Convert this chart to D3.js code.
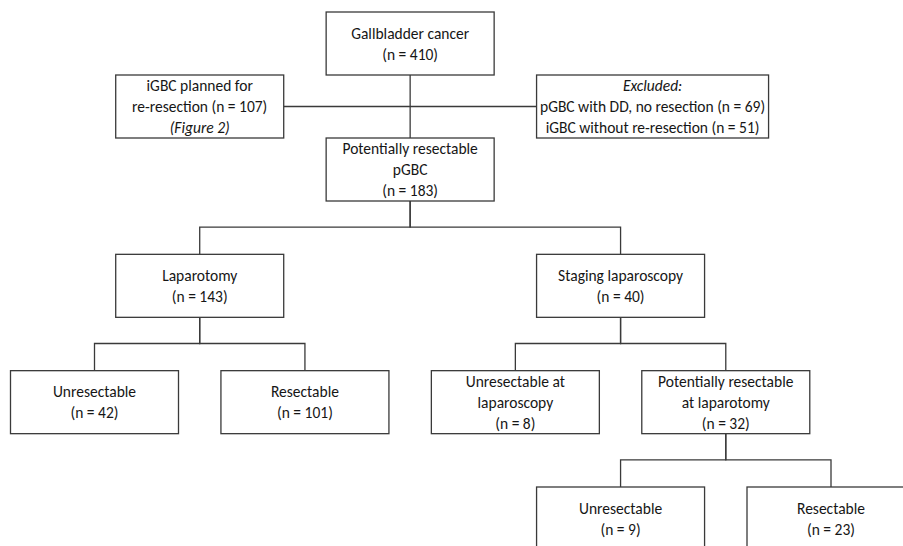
<!DOCTYPE html>
<html>
<head>
<meta charset="utf-8">
<script src="https://cdn.jsdelivr.net/npm/d3@7"></script>
<style>
  body { margin: 0; background: #fff; }
  svg text { font-family: Carlito, Calibri, Lato, sans-serif; fill: #161616; }
</style>
</head>
<body>
<div id="container1"></div>
<script>
// main tree: label lines (count goes on its own line underneath)
const labels = [
    ['Gallbladder cancer'],
    ['Potentially resectable', 'pGBC'],
    ['Laparotomy'],
    ['Staging laparoscopy'],
    ['Unresectable'],
    ['Resectable'],
    ['Unresectable at', 'laparoscopy'],
    ['Potentially resectable', 'at laparotomy'],
    ['Unresectable'],
    ['Resectable']
];
const counts = [410, 183, 143, 40, 42, 101, 8, 32, 9, 23];
const parents = [null, 0, 1, 1, 2, 2, 3, 3, 7, 7];

// side boxes hanging off the first link
const plannedLabel = ['iGBC planned for', 're-resection'];
const plannedCount = 107;
const plannedNote = '(Figure 2)';
const excludedTitle = 'Excluded:';
const excludedLabels = ['pGBC with DD, no resection', 'iGBC without re-resection'];
const excludedCounts = [69, 51];

const maxWidth = 903;
const maxHeight = 546;
const boxW = 168;
const boxH = 63;
const lineH = 21;
const fontSize = 15.5;
const stroke = '#3a3a3a';

let svg = d3.select('div#container1')
            .append('svg')
            .attr('width', maxWidth)
            .attr('height', maxHeight)
            .style('background-color', 'white');

let table = labels.map((l, i) => ({id: i, parent: parents[i], lines: l.map(t => ({t: t})).concat([{t: `(n = ${counts[i]})`}])}));
let root = d3.stratify().id(d => d.id).parentId(d => d.parent)(table);
d3.tree().nodeSize([1, 1]).separation(() => 1)(root);

const nodes = root.descendants();
const xScale = d3.scaleLinear()
                .domain([d3.min(nodes, d => d.x), d3.max(nodes, d => d.x)])
                .range([94.5, 831]);
const yScale = d3.scaleLinear()
                .domain([0, 1, 4])
                .range([12, 138, 487]);

const cx = d => xScale(d.x);
const boxTop = d => yScale(d.depth);

// links (elbows)
let links = svg.append('g')
    .attr('fill', 'none')
    .attr('stroke', stroke)
    .attr('stroke-width', 1.3);

links.selectAll('path')
    .data(root.links())
    .enter()
    .append('path')
    .attr('d', l => {
        let y1 = boxTop(l.source) + boxH;
        let y2 = boxTop(l.target);
        let ym = l.source.depth == 0 ? y2 : (y1 + y2) / 2 - 0.5;
        return `M${cx(l.source)},${y1}V${ym}H${cx(l.target)}V${y2}`;
    });

// side boxes
const lapNode = nodes.find(d => d.data.id == 2);
const stageNode = nodes.find(d => d.data.id == 3);
const sideTop = (yScale(0) + yScale(1)) / 2;
const side = [
    {x: cx(lapNode) - boxW / 2, w: boxW,
     lines: [{t: plannedLabel[0]}, {t: `${plannedLabel[1]} (n = ${plannedCount})`}, {t: plannedNote, it: true}]},
    {x: cx(stageNode) - boxW / 2, w: 232,
     lines: [{t: excludedTitle, it: true}].concat(excludedLabels.map((t, i) => ({t: `${t} (n = ${excludedCounts[i]})`})))}
];

links.append('line')
    .attr('x1', side[0].x + side[0].w)
    .attr('x2', side[1].x)
    .attr('y1', sideTop + boxH / 2)
    .attr('y2', sideTop + boxH / 2);

// all boxes
const boxes = nodes.map(d => ({x: cx(d) - boxW / 2, y: boxTop(d), w: boxW, lines: d.data.lines}))
    .concat(side.map(s => ({x: s.x, y: sideTop, w: s.w, lines: s.lines})));

let g = svg.selectAll('g.box')
    .data(boxes)
    .enter()
    .append('g')
    .classed('box', true);

g.append('rect')
    .attr('x', d => d.x)
    .attr('y', d => d.y)
    .attr('width', d => d.w)
    .attr('height', boxH)
    .attr('fill', 'white')
    .attr('stroke', stroke)
    .attr('stroke-width', 1.3);

g.each(function(d) {
    let n = d.lines.length;
    d3.select(this).selectAll('text')
        .data(d.lines)
        .enter()
        .append('text')
        .attr('x', d.x + d.w / 2)
        .attr('y', (l, i) => d.y + boxH / 2 + (i - (n - 1) / 2) * lineH + 5.5)
        .attr('text-anchor', 'middle')
        .attr('font-size', fontSize + 'px')
        .attr('font-style', l => l.it ? 'italic' : null)
        .text(l => l.t);
});
</script>
</body>
</html>
